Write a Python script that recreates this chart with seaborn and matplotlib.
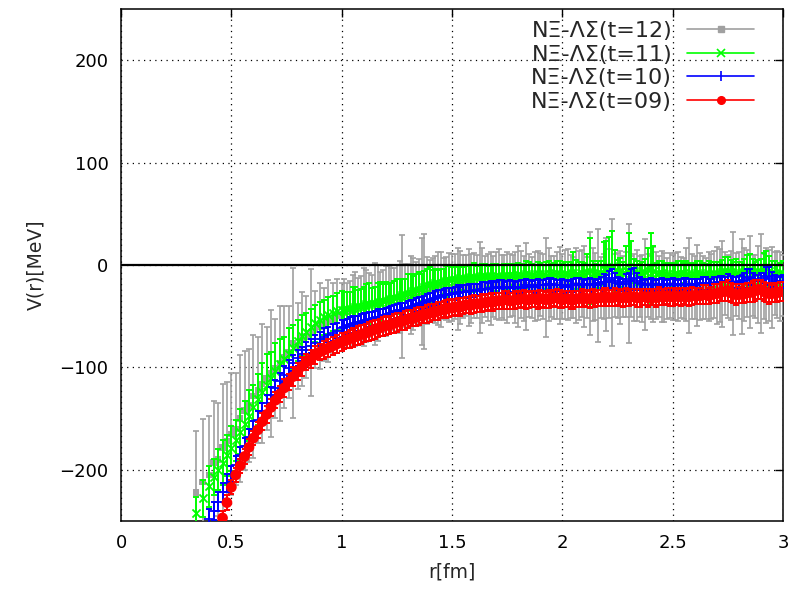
import numpy as np
import pandas as pd
import matplotlib
matplotlib.use("Agg")
import matplotlib.pyplot as plt
from matplotlib.lines import Line2D
import seaborn as sns

nan = np.nan

# ---------------- data ----------------
r_low = [0.34, 0.37, 0.40, 0.42, 0.44, 0.46, 0.48, 0.50, 0.52, 0.54,
         0.56, 0.58, 0.60, 0.62, 0.64, 0.66, 0.68, 0.70, 0.72, 0.74,
         0.76, 0.78, 0.80, 0.82, 0.84, 0.86, 0.88, 0.90, 0.92, 0.94,
         0.96, 0.98]
r_high = [1.000, 1.025, 1.050, 1.075, 1.100, 1.125, 1.150, 1.175, 1.200, 1.225,
          1.250, 1.275, 1.300, 1.325, 1.350, 1.375, 1.400, 1.425, 1.450, 1.475,
          1.500, 1.525, 1.550, 1.575, 1.600, 1.625, 1.650, 1.675, 1.700, 1.725,
          1.750, 1.775, 1.800, 1.825, 1.850, 1.875, 1.900, 1.925, 1.950, 1.975,
          2.000, 2.025, 2.050, 2.075, 2.100, 2.125, 2.150, 2.175, 2.200, 2.225,
          2.250, 2.275, 2.300, 2.325, 2.350, 2.375, 2.400, 2.425, 2.450, 2.475,
          2.500, 2.525, 2.550, 2.575, 2.600, 2.625, 2.650, 2.675, 2.700, 2.725,
          2.750, 2.775, 2.800, 2.825, 2.850, 2.875, 2.900, 2.925, 2.950, 2.975,
          3.000]
r_mid = [1.0125, 1.0375, 1.0625, 1.0875, 1.1125, 1.1375, 1.1625, 1.1875, 1.2125, 1.2375,
         1.2625, 1.2875, 1.3125, 1.3375, 1.3625, 1.3875, 1.4125, 1.4375, 1.4625, 1.4875,
         1.5125, 1.5375, 1.5625, 1.5875, 1.6125, 1.6375, 1.6625, 1.6875, 1.7125, 1.7375,
         1.7625, 1.7875, 1.8125, 1.8375, 1.8625, 1.8875, 1.9125, 1.9375, 1.9625, 1.9875,
         2.0125, 2.0375, 2.0625, 2.0875, 2.1125, 2.1375, 2.1625, 2.1875, 2.2125, 2.2375,
         2.2625, 2.2875, 2.3125, 2.3375, 2.3625, 2.3875, 2.4125, 2.4375, 2.4625, 2.4875,
         2.5125, 2.5375, 2.5625, 2.5875, 2.6125, 2.6375, 2.6625, 2.6875, 2.7125, 2.7375,
         2.7625, 2.7875, 2.8125, 2.8375, 2.8625, 2.8875, 2.9125, 2.9375, 2.9625, 2.9875]

# t=12 (gray)
v12_low = [-222, -212, -205, -193, -190, -178, -172, -165, -160, -150,
           -142, -137, -128, -122, -116, -111, -106, -101, -96, -90,
           -85, -76, -79, -72, -70, -66, -63, -60, -58, -55,
           -52, -50]
e12_low = [60, 62, 58, 60, 55, 62, 58, 60, 55, 62,
           58, 55, 60, 52, 58, 50, 62, 48, 56, 50,
           45, 73, 42, 46, 40, 62, 38, 42, 36, 40,
           34, 36]
v12_high = [-48, -46, -44, -42, -41, -39, -38, -36, -35, -33,
            -32, -31, -30, -28, -27, -26, -25, -24, -24, -23,
            -22, -23, -21, -22, -20, -22, -21, -23, -20, -21,
            -22, -20, -21, -23, -20, -21, -19, -22, -21, -20,
            -21, -19, -22, -20, -21, -18, -21, -22, -19, -17,
            -20, -21, -18, -22, -21, -19, -22, -20, -21, -23,
            -22, -21, -23, -20, -22, -21, -23, -21, -20, -19,
            -21, -18, -20, -19, -17, -21, -18, -20, -22, -19,
            -20]
e12_high = [30, 28, 34, 29, 38, 31, 40, 29, 34, 30,
            32, 60, 31, 35, 33, 56, 30, 33, 37, 31,
            33, 40, 31, 38, 32, 44, 30, 36, 33, 31,
            35, 30, 40, 32, 31, 34, 31, 48, 30, 33,
            32, 35, 30, 34, 40, 50, 33, 30, 45, 62,
            32, 30, 58, 33, 30, 44, 31, 33, 35, 30,
            32, 34, 30, 46, 31, 33, 30, 32, 38, 42,
            31, 50, 33, 36, 45, 31, 48, 37, 40, 33,
            30]
v12_mid = [-47, -45, -43, -42, -40, -38, -37, -35, -34, -32,
           -31, -30, -29, -27, -26, -25, -24, -23, -23, -22,
           -21, -22, -20, -23, -21, -20, -22, -21, -19, -22,
           -20, -22, -19, -21, -22, -20, -21, -19, -22, -20,
           -19, -21, -20, -18, -22, -19, -20, -21, -18, -20,
           -22, -19, -21, -20, -23, -20, -19, -21, -22, -20,
           -21, -22, -19, -21, -20, -22, -21, -19, -20, -18,
           -20, -19, -21, -18, -20, -19, -21, -20, -18, -21]
e12_mid = [33, 29, 36, 31, 35, 28, 37, 30, 33, 29,
           35, 31, 38, 30, 52, 33, 31, 36, 30, 34,
           32, 36, 30, 34, 31, 37, 33, 30, 35, 32,
           31, 35, 33, 42, 30, 34, 32, 36, 31, 38,
           34, 31, 37, 33, 30, 36, 55, 32, 34, 31,
           36, 32, 30, 35, 33, 31, 37, 30, 34, 32,
           33, 30, 36, 32, 40, 31, 34, 33, 36, 31,
           34, 31, 46, 33, 30, 38, 32, 35, 31, 34]

# t=11 (green)
v11_low = [-242, -228, -216, -207, -200, -193, -186, -179, -171, -163,
           -155, -147, -139, -131, -124, -117, -110, -104, -97, -92,
           -87, -81, -74, -69, -65, -61, -57, -54, -51, -49,
           -47, -45]
e11_low = [15, 18, 20, 18, 20, 22, 20, 22, 20, 22,
           22, 25, 22, 25, 28, 30, 25, 28, 25, 22,
           25, 22, 20, 20, 18, 18, 18, 18, 17, 18,
           17, 18]
v11_high = [-44, -43, -42, -40, -39, -38, -37, -36, -34, -33,
            -31, -29, -27, -25, -23, -21, -19, -18, -17, -16,
            -14, -14, -13, -13, -12, -12, -11, -11, -12, -11,
            -11, -10, -11, -10, -9, -10, -9, -10, -9, -8,
            -10, -9, -8, -10, -9, -6, -9, -8, -5, -1,
            -7, -8, -2, -6, -9, -7, -3, -9, -8, -9,
            -10, -9, -8, -10, -9, -8, -9, -10, -8, -7,
            -6, -8, -9, -7, -5, -8, -6, -4, -7, -10,
            -8]
e11_high = [19, 17, 21, 16, 18, 20, 16, 19, 17, 15,
            17, 15, 18, 14, 16, 15, 17, 14, 13, 15,
            12, 13, 11, 12, 14, 11, 12, 10, 13, 11,
            12, 10, 13, 11, 12, 10, 11, 13, 10, 12,
            11, 12, 21, 13, 11, 32, 10, 12, 28, 34,
            12, 11, 33, 12, 10, 13, 34, 11, 12, 10,
            11, 13, 10, 12, 11, 12, 10, 13, 11, 12,
            14, 11, 12, 13, 16, 11, 12, 18, 11, 10,
            12]
v11_mid = [-44, -42, -41, -40, -38, -37, -36, -35, -33, -32,
           -30, -28, -26, -24, -22, -20, -19, -18, -16, -15,
           -14, -13, -13, -12, -12, -11, -11, -12, -11, -11,
           -10, -11, -10, -9, -10, -9, -10, -8, -9, -9,
           -9, -8, -9, -9, -7, -8, -9, -4, -3, -5,
           -7, -5, -4, -8, -8, -5, -6, -8, -9, -10,
           -9, -8, -9, -9, -8, -9, -9, -9, -8, -6,
           -7, -8, -8, -6, -7, -7, -5, -6, -8, -9]
e11_mid = [18, 16, 20, 17, 19, 15, 18, 16, 14, 16,
           16, 14, 17, 15, 13, 16, 14, 13, 12, 14,
           12, 11, 13, 12, 11, 12, 10, 13, 11, 12,
           11, 12, 10, 13, 11, 12, 10, 12, 11, 13,
           12, 11, 14, 12, 18, 12, 13, 26, 30, 20,
           14, 24, 27, 12, 11, 22, 25, 12, 11, 12,
           11, 12, 13, 10, 12, 11, 13, 12, 11, 14,
           12, 14, 11, 16, 13, 12, 17, 15, 12, 11]

# t=10 (blue)
v10_low = [nan, nan, -248, -240, -231, -222, -213, -204, -195, -186,
           -177, -168, -160, -151, -143, -135, -127, -120, -113, -107,
           -101, -96, -91, -87, -83, -79, -76, -72, -70, -68,
           -66, -64]
e10_low = [nan, nan, 10, 9, 9, 9, 9, 8, 8, 8,
           8, 8, 8, 8, 8, 8, 8, 8, 8, 8,
           8, 8, 8, 7, 8, 7, 8, 7, 8, 7,
           8, 7]
v10_high = [-62, -60, -58, -57, -55, -54, -52, -51, -49, -47,
            -45, -44, -42, -40, -38, -36, -34, -32, -30, -29,
            -28, -27, -26, -25, -25, -24, -23, -22, -22, -21,
            -22, -21, -22, -21, -20, -21, -20, -20, -19, -20,
            -20, -21, -20, -19, -20, -19, -20, -18, -17, -13,
            -18, -19, -16, -13, -18, -20, -19, -20, -19, -20,
            -19, -20, -19, -19, -20, -19, -18, -19, -18, -17,
            -16, -18, -17, -15, -12, -16, -15, -11, -14, -17,
            -16]
e10_high = [8, 7, 8, 7, 8, 8, 7, 8, 7, 7,
            7, 7, 7, 6, 7, 6, 7, 7, 6, 7,
            6, 7, 6, 6, 6, 5, 6, 6, 5, 6,
            6, 5, 6, 6, 5, 6, 5, 6, 6, 5,
            6, 5, 6, 6, 5, 6, 5, 6, 7, 9,
            6, 5, 8, 10, 6, 5, 6, 5, 6, 5,
            6, 5, 6, 5, 6, 5, 6, 5, 6, 6,
            7, 6, 6, 7, 8, 6, 7, 9, 7, 6,
            6]
v10_mid = [-61, -59, -57, -56, -54, -53, -51, -50, -48, -46,
           -44, -43, -41, -39, -37, -35, -33, -31, -29, -28,
           -27, -26, -26, -25, -24, -23, -23, -22, -21, -22,
           -21, -22, -21, -20, -21, -20, -20, -19, -20, -20,
           -21, -20, -19, -20, -19, -20, -19, -17, -15, -16,
           -19, -17, -14, -16, -19, -20, -19, -20, -20, -19,
           -20, -19, -19, -20, -19, -18, -19, -18, -17, -17,
           -17, -17, -16, -13, -14, -16, -13, -12, -16, -17]
e10_mid = [7, 8, 7, 8, 7, 7, 8, 7, 7, 7,
           7, 6, 7, 7, 6, 7, 6, 7, 6, 6,
           6, 5, 6, 6, 5, 6, 5, 6, 6, 5,
           6, 5, 6, 6, 5, 6, 5, 6, 6, 5,
           6, 5, 6, 6, 5, 6, 5, 8, 9, 8,
           6, 8, 10, 8, 5, 6, 5, 6, 6, 5,
           6, 5, 6, 6, 5, 6, 5, 6, 6, 5,
           6, 5, 6, 9, 6, 6, 5, 10, 6, 5]

# t=09 (red)
v09_low = [nan, nan, nan, nan, nan, -247, -232, -217, -205, -196,
           -187, -178, -169, -161, -153, -146, -139, -132, -126, -120,
           -114, -109, -104, -99, -95, -92, -88, -85, -83, -81,
           -79, -77]
e09_low = [nan, nan, nan, nan, nan, 7, 7, 7, 7, 7,
           7, 8, 7, 8, 8, 8, 8, 8, 8, 9,
           8, 9, 8, 9, 8, 9, 9, 8, 9, 9,
           9, 9]
v09_high = [-75, -73, -71, -69, -67, -65, -63, -61, -59, -58,
            -56, -55, -53, -52, -50, -49, -47, -46, -44, -43,
            -42, -41, -40, -39, -38, -38, -37, -36, -35, -35,
            -34, -35, -34, -33, -34, -33, -33, -34, -33, -32,
            -34, -33, -34, -33, -32, -33, -33, -32, -31, -32,
            -31, -32, -32, -31, -32, -31, -31, -32, -31, -30,
            -31, -31, -30, -31, -30, -30, -29, -29, -28, -26,
            -25, -28, -29, -28, -27, -25, -24, -27, -28, -27,
            -26]
e09_high = [9, 8, 9, 9, 8, 9, 9, 8, 9, 8,
            9, 8, 9, 8, 9, 8, 9, 8, 8, 9,
            8, 9, 8, 8, 9, 8, 8, 9, 8, 8,
            9, 8, 8, 9, 8, 8, 9, 8, 8, 9,
            8, 8, 9, 8, 8, 9, 8, 8, 9, 8,
            8, 9, 8, 8, 9, 8, 8, 9, 8, 8,
            9, 8, 8, 9, 8, 8, 9, 8, 9, 9,
            10, 9, 8, 9, 9, 10, 9, 9, 8, 9,
            9]
v09_mid = [-74, -72, -70, -68, -66, -64, -62, -60, -59, -57,
           -55, -54, -52, -51, -49, -48, -46, -45, -43, -42,
           -41, -41, -39, -39, -38, -37, -36, -36, -35, -34,
           -35, -34, -33, -34, -33, -34, -33, -33, -32, -33,
           -33, -34, -33, -32, -33, -32, -32, -31, -32, -31,
           -32, -31, -31, -32, -31, -32, -31, -30, -31, -31,
           -30, -31, -31, -30, -30, -29, -30, -28, -27, -26,
           -27, -29, -28, -27, -26, -24, -26, -28, -27, -26]
e09_mid = [8, 9, 8, 9, 8, 9, 8, 9, 8, 9,
           8, 9, 8, 9, 8, 9, 8, 9, 8, 9,
           8, 9, 8, 9, 8, 9, 8, 9, 8, 9,
           8, 9, 8, 9, 8, 9, 8, 9, 8, 9,
           8, 9, 8, 9, 8, 9, 8, 9, 8, 9,
           8, 9, 8, 9, 8, 9, 8, 9, 8, 9,
           8, 9, 8, 9, 8, 9, 8, 9, 8, 9,
           9, 10, 9, 9, 10, 9, 9, 10, 9, 9]

labels = ["NΞ-ΛΣ(t=12)", "NΞ-ΛΣ(t=11)", "NΞ-ΛΣ(t=10)", "NΞ-ΛΣ(t=09)"]
x_ticks = [0, 0.5, 1, 1.5, 2, 2.5, 3]
x_ticklabels = ["0", "0.5", "1", "1.5", "2", "2.5", "3"]
y_ticks = [-200, -100, 0, 100, 200]
y_ticklabels = ["\u2212200", "\u2212100", "0", "100", "200"]

# ---------------- build table ----------------
r_all = r_low + r_high + r_mid
frames = []
for lab, v, e in [(labels[0], v12_low + v12_high + v12_mid, e12_low + e12_high + e12_mid),
                  (labels[1], v11_low + v11_high + v11_mid, e11_low + e11_high + e11_mid),
                  (labels[2], v10_low + v10_high + v10_mid, e10_low + e10_high + e10_mid),
                  (labels[3], v09_low + v09_high + v09_mid, e09_low + e09_high + e09_mid)]:
    frames.append(pd.DataFrame({"r": r_all, "V": v, "err": e, "series": lab}))
df = pd.concat(frames, ignore_index=True).dropna()

# ---------------- style ----------------
sns.set_style("white")
plt.rcParams["font.family"] = ["DejaVu Sans"]

colors = {labels[0]: "#a0a0a0", labels[1]: "#00ff00",
          labels[2]: "#0000ff", labels[3]: "#ff0000"}
markers = {labels[0]: "s", labels[1]: "x", labels[2]: "+", labels[3]: "o"}
msize = {labels[0]: 22, labels[1]: 34, labels[2]: 44, labels[3]: 60}
ebw = {labels[0]: 1.2, labels[1]: 1.4, labels[2]: 1.4, labels[3]: 1.4}

fig = plt.figure(figsize=(7.9, 5.9), dpi=100)
ax = fig.add_axes([121 / 790, 1 - 521 / 590, 662 / 790, 512 / 590])

for i, lab in enumerate(labels):
    d = df[df["series"] == lab]
    c = colors[lab]
    ax.errorbar(d["r"], d["V"], yerr=d["err"], fmt="none", ecolor=c,
                elinewidth=ebw[lab], capsize=2.5, capthick=ebw[lab],
                zorder=3 + 2 * i)
    lined = lab in (labels[1], labels[2])
    sns.scatterplot(data=d, x="r", y="V", color=c, marker=markers[lab],
                    s=msize[lab], linewidth=(1.3 if lined else 0),
                    edgecolor=(c if lined else "none"),
                    ax=ax, zorder=4 + 2 * i, legend=False)

ax.axhline(0, color="black", lw=1.6, zorder=20)

ax.set_xlim(0, 3)
ax.set_ylim(-250, 250)
ax.set_xticks(x_ticks)
ax.set_xticklabels(x_ticklabels)
ax.set_yticks(y_ticks)
ax.set_yticklabels(y_ticklabels)
ax.grid(True, color="black", linestyle=(0, (1, 3.5)), linewidth=0.9, zorder=1)
ax.set_axisbelow(True)
ax.tick_params(direction="in", length=6, width=1, top=True, right=True,
               labelsize=13, pad=9, colors="black")
for s in ax.spines.values():
    s.set_visible(True)
    s.set_color("black")
    s.set_linewidth(1.1)

ax.set_xlabel("r[fm]", fontsize=13.5, labelpad=8)
ax.set_ylabel("V(r)[MeV]", fontsize=13.5, labelpad=10)

handles = []
for lab in labels:
    c = colors[lab]
    if lab == labels[0]:
        h = Line2D([0], [0], color=c, lw=1.2, marker="s", markersize=5,
                   markerfacecolor=c, markeredgecolor=c)
    elif lab == labels[1]:
        h = Line2D([0], [0], color=c, lw=1.2, marker="x", markersize=6,
                   markeredgewidth=1.2)
    elif lab == labels[2]:
        h = Line2D([0], [0], color=c, lw=1.2, marker="|", markersize=7,
                   markeredgewidth=1.2)
    else:
        h = Line2D([0], [0], color=c, lw=1.2, marker="o", markersize=5.5,
                   markerfacecolor=c, markeredgecolor=c)
    handles.append(h)

leg = fig.legend(handles, labels, loc="upper right",
                 bbox_to_anchor=(754 / 790, 1 - 21 / 590),
                 frameon=False, markerfirst=False, fontsize=16,
                 handlelength=3.0, handletextpad=0.68, labelspacing=0.16,
                 borderpad=0, borderaxespad=0)
leg.set_zorder(30)

fig.savefig("out.png", dpi=100)
